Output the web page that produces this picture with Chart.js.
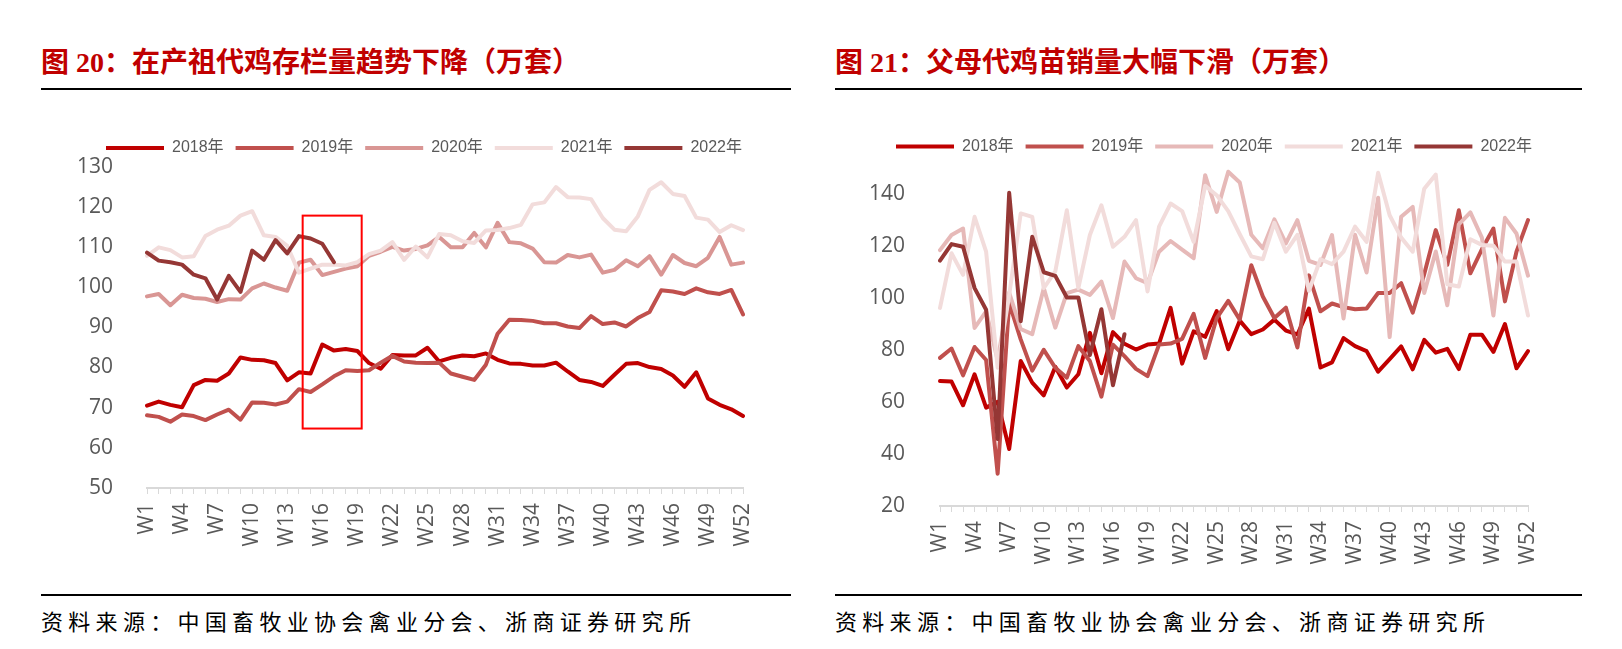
<!DOCTYPE html>
<html>
<head>
<meta charset="utf-8">
<script src="https://cdn.jsdelivr.net/npm/chart.js@4.4.0/dist/chart.umd.min.js"></script>
<style>
  body { margin: 0; background: #fff; }
  #page { position: relative; width: 1622px; height: 649px; overflow: hidden; font-family: "Noto Sans CJK SC", sans-serif; }
  .title { position: absolute; top: 45px; font-family: "Liberation Serif", "Noto Sans CJK SC", serif; font-size: 28px; font-weight: bold; color: #C00000; white-space: nowrap; line-height: 36px; }
  .rule { position: absolute; height: 2px; background: #000; }
  .source { position: absolute; top: 606px; font-size: 22px; letter-spacing: 5.3px; color: #000; white-space: nowrap; line-height: 28px; }
  canvas { position: absolute; }
</style>
</head>
<body>
<div id="page">
  <div class="title" style="left:41px">图 20：在产祖代鸡存栏量趋势下降（万套）</div>
  <div class="rule" style="left:41px; width:750px; top:88px"></div>
  <canvas id="stockChart" width="750" height="470" style="left:41px; top:120px"></canvas>
  <div class="rule" style="left:41px; width:750px; top:594px"></div>
  <div class="source" style="left:41px">资料来源：中国畜牧业协会禽业分会、浙商证券研究所</div>

  <div class="title" style="left:835px">图 21：父母代鸡苗销量大幅下滑（万套）</div>
  <div class="rule" style="left:835px; width:747px; top:88px"></div>
  <canvas id="salesChart" width="747" height="470" style="left:835px; top:120px"></canvas>
  <div class="rule" style="left:835px; width:747px; top:594px"></div>
  <div class="source" style="left:835px">资料来源：中国畜牧业协会禽业分会、浙商证券研究所</div>
</div>
<script>
// weeks on the x axis
var weeks = ['W1','W2','W3','W4','W5','W6','W7','W8','W9','W10','W11','W12','W13',
  'W14','W15','W16','W17','W18','W19','W20','W21','W22','W23','W24','W25','W26',
  'W27','W28','W29','W30','W31','W32','W33','W34','W35','W36','W37','W38','W39',
  'W40','W41','W42','W43','W44','W45','W46','W47','W48','W49','W50','W51','W52'];
var years = ['2018年', '2019年', '2020年', '2021年', '2022年'];

// 图20 在产祖代鸡存栏量（万套）
var stock2018 = [70.5,71.5,70.7,70.1,75.6,76.9,76.7,78.5,82.5,81.9, 81.8,81.1,76.8,78.8,78.5,85.7,84.2,84.6,84.1,81.1,
  79.7,83.1,83.0,83.0,84.9,81.5,82.4,83.0,82.8,83.5, 81.9,81.0,80.9,80.5,80.5,81.2,79.0,76.9,76.4,75.4,
  78.2,80.9,81.1,80.1,79.6,78.0,75.2,78.8,72.3,70.7, 69.6,67.9];
var stock2019 = [68.1,67.7,66.5,68.3,67.9,66.9,68.3,69.5,67.0,71.3, 71.2,70.8,71.5,74.6,73.9,75.8,77.8,79.3,79.1,79.3,
  81.2,82.9,81.5,81.2,81.1,81.2,78.5,77.7,76.9,80.7, 88.4,91.9,91.8,91.6,91.0,91.0,90.2,89.8,92.8,90.8,
  91.2,90.2,92.3,93.8,99.2,98.9,98.3,99.7,98.7,98.3, 99.3,93.2];
var stock2020 = [97.7,98.3,95.5,98.1,97.3,97.1,96.3,97.0,96.9,99.7, 100.9,99.9,99.1,106.1,106.8,103.0,103.8,104.6,105.2,107.8,
  108.8,110.0,109.1,109.5,110.4,112.5,109.9,109.9,113.5,109.9, 116.0,111.2,110.9,109.6,106.2,106.1,108.0,107.4,108.1,103.6,
  104.3,106.7,105.2,107.7,103.1,108.0,106.0,105.2,107.3,112.5, 105.6,106.1];
var stock2021 = [107.8,109.9,109.2,107.4,107.7,112.7,114.3,115.3,117.8,118.9, 112.9,112.5,110.3,103.6,104.6,105.6,105.6,105.4,106.2,108.2,
  109.1,111.2,106.8,110.1,107.4,113.2,112.9,111.4,111.0,114.1, 114.2,114.7,115.5,120.6,121.1,124.9,122.4,122.3,121.9,117.2,
  114.3,113.9,117.6,124.2,126.1,123.2,122.7,117.3,116.8,113.7, 115.4,114.2];
var stock2022 = [108.6,106.6,106.2,105.6,103.1,102.2,96.9,102.8,98.8,109.1, 106.8,111.7,108.4,112.7,112.1,110.8,106.2];

// 图21 父母代鸡苗销量（万套）
var sales2018 = [68.0,67.8,58.7,70.6,57.8,60.0,41.9,75.7,67.4,62.5, 73.5,65.5,70.6,86.5,71.0,86.8,82.3,80.1,82.0,82.4,
  96.1,74.7,87.1,85.0,94.9,80.2,91.2,86.0,87.8,91.6, 87.4,85.9,95.8,73.2,75.2,84.5,81.4,79.5,71.6,76.4,
  81.3,72.5,83.8,78.9,80.4,72.6,85.8,85.8,79.2,89.9, 72.9,79.5];
var sales2019 = [76.9,80.5,70.2,81.1,76.1,32.4,98.0,84.0,72.0,80.0, 73.1,69.3,81.4,75.7,62.0,82.0,77.6,72.7,69.9,82.0,
  82.4,84.2,93.8,76.9,92.2,98.8,91.6,112.5,100.5,92.2, 96.2,80.9,108.6,94.8,97.8,96.4,95.6,95.9,101.8,101.8,
  105.6,94.3,109.1,126.0,112.6,133.6,109.4,118.6,126.6,98.6, 117.7,129.8];
var sales2020 = [118.3,124.1,126.6,88.4,94.8,76.0,102.0,88.0,86.0,103.7, 88.5,101.8,103.1,101.1,106.2,92.2,113.9,107.5,105.6,117.7,
  121.8,118.5,115.2,147.1,133.0,148.4,144.3,124.2,119.0,130.1, 120.9,129.8,114.2,112.6,124.1,92.0,124.2,109.7,138.4,84.9,
  131.1,134.9,101.8,117.8,97.1,128.2,132.8,123.1,93.2,130.7, 124.7,108.5];
var sales2021 = [96.1,117.1,108.8,131.1,117.7,73.1,101.0,132.4,131.1,103.7, 110.1,133.6,103.7,124.1,135.5,119.6,123.4,129.8,102.4,127.3,
  136.2,133.3,121.5,143.0,139.4,133.3,124.4,115.9,114.8,128.8, 117.7,124.2,102.7,114.8,112.9,117.7,127.3,121.5,148.0,131.7,
  123.1,117.7,141.9,147.3,105.2,104.3,122.5,120.3,120.0,113.9, 113.9,93.2];
var sales2022 = [114.3,120.6,119.6,103.7,95.4,45.7,140.3,91.0,123.4,109.8, 108.4,100.1,100.1,78.0,95.6,66.4,86.0];

var labelColor = '#595959';
Chart.defaults.font.family = '"Open Sans", sans-serif';

// legend sits beside the top tick label, so it is placed by hand after layout
var placeLegend = {
  id: 'placeLegend',
  beforeDraw: function (chart, args, opts) {
    var lg = chart.legend;
    lg.left = opts.x; lg.right = opts.x + 740;
    lg.top = opts.y; lg.bottom = opts.y + 40;
  }
};

// red frame round W15-W19 in 图20
var markBox = {
  id: 'markBox',
  afterDatasetsDraw: function (chart, args, opts) {
    var xs = chart.scales.x, ys = chart.scales.y, ctx = chart.ctx;
    var l = xs.getPixelForValue(opts.from), r = xs.getPixelForValue(opts.to);
    var t = ys.getPixelForValue(opts.top), b = ys.getPixelForValue(opts.bottom);
    ctx.save();
    ctx.strokeStyle = '#FF0000';
    ctx.lineWidth = 2;
    ctx.strokeRect(l, t, r - l, b - t);
    ctx.restore();
  }
};

function series(label, data, color, order) {
  return {
    label: label, data: data, borderColor: color, backgroundColor: color,
    borderWidth: 4, pointRadius: 0, pointBorderWidth: 4, pointBorderColor: color,
    borderJoinStyle: 'round', borderCapStyle: 'round', tension: 0, fill: false, order: order
  };
}

function options(cfg) {
  return {
    responsive: false,
    animation: false,
    events: [],
    layout: { padding: { top: cfg.padTop, right: cfg.padRight, bottom: 0, left: 0 } },
    plugins: {
      tooltip: { enabled: false },
      legend: {
        position: 'top',
        align: 'start',
        maxHeight: 1,
        labels: {
          usePointStyle: true, pointStyle: 'line', pointStyleWidth: 58,
          padding: 12, color: labelColor,
          font: { family: '"Liberation Sans", "Noto Sans CJK SC"', size: 16 },
          sort: function (a, b) { return a.datasetIndex - b.datasetIndex; }
        }
      },
      placeLegend: { x: cfg.legendX, y: cfg.legendY },
      markBox: cfg.box || {}
    },
    scales: {
      x: {
        type: 'category',
        offset: false,
        grid: { display: true, drawOnChartArea: false, drawTicks: true, tickLength: 6, color: '#D9D9D9', lineWidth: 1 },
        border: { display: true, color: '#D9D9D9', width: 2 },
        ticks: {
          autoSkip: false, maxRotation: 90, minRotation: 90, padding: 9,
          color: labelColor, font: { size: 21 },
          callback: function (v, i) { return i % 3 === 0 ? this.getLabelForValue(v) : ''; }
        },
        afterFit: function (s) { s.height = cfg.xHeight; }
      },
      y: {
        min: cfg.min, max: cfg.max,
        grid: { display: false, drawTicks: false },
        border: { display: false },
        ticks: {
          stepSize: cfg.step, padding: cfg.yPad, color: labelColor, font: { size: 21 },
          callback: function (v) { return v <= cfg.top ? v : ''; }
        },
        afterFit: function (s) { s.width = cfg.yWidth; }
      }
    }
  };
}

new Chart(document.getElementById('stockChart'), {
  type: 'line',
  data: {
    labels: weeks,
    datasets: [
      series(years[0], stock2018, '#C00000', 5),
      series(years[1], stock2019, '#C0504D', 4),
      series(years[2], stock2020, '#D99694', 3),
      series(years[3], stock2021, '#F2DCDB', 2),
      series(years[4], stock2022, '#953735', 1)
    ]
  },
  options: options({ padTop: 38, padRight: 48, xHeight: 102, yWidth: 106, yPad: 34,
    min: 50, max: 130, step: 10, top: 130, legendX: 53, legendY: 8,
    box: { from: 13.32, to: 18.37, top: 117.8, bottom: 64.8 } }),
  plugins: [placeLegend, markBox]
});

new Chart(document.getElementById('salesChart'), {
  type: 'line',
  data: {
    labels: weeks,
    datasets: [
      series(years[0], sales2018, '#C00000', 5),
      series(years[1], sales2019, '#C0504D', 4),
      series(years[2], sales2020, '#E6B9B8', 3),
      series(years[3], sales2021, '#F2DCDB', 2),
      series(years[4], sales2022, '#953735', 1)
    ]
  },
  options: options({ padTop: 44.5, padRight: 54, xHeight: 84, yWidth: 105, yPad: 35,
    min: 20, max: 150, step: 20, top: 140, legendX: 49, legendY: 6.5 }),
  plugins: [placeLegend]
});
</script>
</body>
</html>
